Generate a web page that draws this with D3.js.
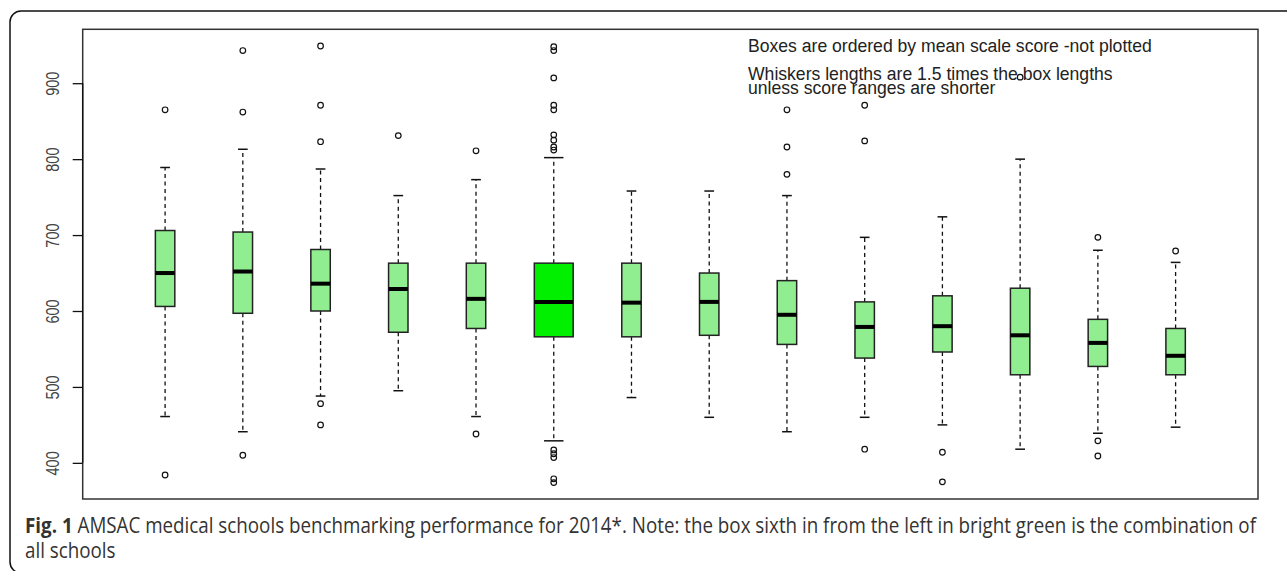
<!DOCTYPE html>
<html>
<head>
<meta charset="utf-8">
<script src="https://cdn.jsdelivr.net/npm/d3@7"></script>
<style>
  body { margin: 0; background: #fff; }
  svg { display: block; }
</style>
</head>
<body>
<script>
// one box per school, ordered by mean score; the 6th is all schools combined
var schools = ["S1", "S2", "S3", "S4", "S5", "All", "S7", "S8", "S9", "S10", "S11", "S12", "S13", "S14"];
var combined = "All";

var lowWhisker  = [461, 441, 488, 495, 461, 429, 486, 460, 441, 460, 450, 418, 439, 447];
var q1          = [606, 597, 600, 572, 577, 566, 566, 568, 556, 538, 546, 516, 527, 516];
var median      = [650, 652, 636, 629, 616, 612, 611, 612, 595, 579, 580, 568, 558, 541];
var q3          = [706, 704, 681, 663, 663, 663, 663, 650, 640, 612, 620, 630, 589, 577];
var highWhisker = [789, 813, 787, 752, 773, 802, 758, 758, 752, 697, 724, 800, 680, 664];

var outliers = [
  [865, 384],
  [943, 862, 410],
  [949, 871, 823, 478, 450],
  [831],
  [811, 438],
  [948, 943, 907, 871, 865, 832, 825, 816, 812, 417, 412, 407, 379, 374],
  [],
  [],
  [865, 816, 780],
  [871, 824, 418],
  [414, 375],
  [908],
  [697, 429, 409],
  [679]
];

var yTicks = [400, 500, 600, 700, 800, 900];

var notes = [
  "Boxes are ordered by mean scale score -not plotted",
  "Whiskers lengths are 1.5 times the box lengths",
  "unless score ranges are shorter"
];

var W = 1287, H = 571;
var plot = {left: 82.7, right: 1258, top: 29.3, bottom: 499};

var svg = d3.select("body").append("svg")
    .attr("width", W)
    .attr("height", H);

// outer rounded frame of the figure panel
svg.append("rect")
    .attr("x", 10).attr("y", 11)
    .attr("width", 1320).attr("height", 562)
    .attr("rx", 11)
    .attr("fill", "none")
    .attr("stroke", "#111")
    .attr("stroke-width", 1.5);

// R-style x range: positions 1..n, +-0.5, then 4% padding
var n = schools.length;
var pad = n * 0.04;
var x = d3.scaleLinear()
    .domain([0.5 - pad, n + 0.5 + pad])
    .range([plot.left, plot.right]);

var y = d3.scaleLinear()
    .domain([352.4, 971])
    .range([plot.bottom, plot.top]);

var data = schools.map(function(s, i) {
  return {
    name: s, pos: i + 1,
    lo: lowWhisker[i], q1: q1[i], med: median[i], q3: q3[i], hi: highWhisker[i],
    out: outliers[i]
  };
});

function halfW(d) { return d.name === combined ? 0.25 : 0.125; }

var g = svg.append("g");

var box = g.selectAll("g.box")
    .data(data)
  .enter().append("g")
    .attr("class", "box");

// dashed whiskers
box.append("line")
    .attr("x1", d => x(d.pos)).attr("x2", d => x(d.pos))
    .attr("y1", d => y(d.q3)).attr("y2", d => y(d.hi))
    .attr("stroke", "#111").attr("stroke-width", 1.3)
    .attr("stroke-dasharray", "4,3.5");
box.append("line")
    .attr("x1", d => x(d.pos)).attr("x2", d => x(d.pos))
    .attr("y1", d => y(d.q1)).attr("y2", d => y(d.lo))
    .attr("stroke", "#111").attr("stroke-width", 1.3)
    .attr("stroke-dasharray", "4,3.5");

// staples, half the box width
["hi", "lo"].forEach(function(k) {
  box.append("line")
      .attr("x1", d => x(d.pos - halfW(d) / 2)).attr("x2", d => x(d.pos + halfW(d) / 2))
      .attr("y1", d => y(d[k])).attr("y2", d => y(d[k]))
      .attr("stroke", "#111").attr("stroke-width", 1.5);
});

// boxes
box.append("rect")
    .attr("x", d => x(d.pos - halfW(d)))
    .attr("width", d => x(d.pos + halfW(d)) - x(d.pos - halfW(d)))
    .attr("y", d => y(d.q3))
    .attr("height", d => y(d.q1) - y(d.q3))
    .attr("fill", d => d.name === combined ? "#00f000" : "#90ee90")
    .attr("stroke", "#222")
    .attr("stroke-width", 1.5);

// medians
box.append("line")
    .attr("x1", d => x(d.pos - halfW(d))).attr("x2", d => x(d.pos + halfW(d)))
    .attr("y1", d => y(d.med)).attr("y2", d => y(d.med))
    .attr("stroke", "#000").attr("stroke-width", 4);

// outliers
box.selectAll("circle")
    .data(d => d.out.map(v => ({pos: d.pos, v: v})))
  .enter().append("circle")
    .attr("cx", d => x(d.pos))
    .attr("cy", d => y(d.v))
    .attr("r", 2.8)
    .attr("fill", "none")
    .attr("stroke", "#111")
    .attr("stroke-width", 1.2);

// plot border
svg.append("rect")
    .attr("x", plot.left).attr("y", plot.top)
    .attr("width", plot.right - plot.left)
    .attr("height", plot.bottom - plot.top)
    .attr("fill", "none")
    .attr("stroke", "#333")
    .attr("stroke-width", 1.5);

// y axis, labels parallel to the axis as in base R
var yAxis = svg.append("g")
    .attr("transform", "translate(" + plot.left + ",0)")
    .call(d3.axisLeft(y).tickValues(yTicks).tickSize(10).tickFormat(d3.format("d")));
yAxis.select(".domain").attr("stroke", "#111").attr("stroke-width", 1.3)
    .attr("d", "M0," + y(400) + "V" + y(900));
yAxis.selectAll(".tick line").attr("stroke", "#111").attr("stroke-width", 1.3);
yAxis.selectAll(".tick text")
    .attr("x", null).attr("dy", null)
    .attr("transform", "translate(-24,0) rotate(-90) scale(1,1.25)")
    .attr("text-anchor", "middle")
    .attr("font-family", "Liberation Sans, Arial, sans-serif")
    .attr("font-size", 14.5)
    .attr("fill", "#444");

// notes in the top right of the plot
var noteY = [52, 80, 94];
svg.selectAll("text.note")
    .data(notes)
  .enter().append("text")
    .attr("class", "note")
    .attr("transform", (d, i) => "translate(748," + noteY[i] + ") scale(1,1.05)")
    .attr("font-family", "Liberation Sans, Arial, sans-serif")
    .attr("font-size", 17.6)
    .attr("fill", "#222")
    .text(d => d);

// caption
var cap = svg.append("text")
    .attr("transform", "translate(25,533) scale(1,1.12)")
    .attr("font-family", "Open Sans, Noto Sans, sans-serif")
    .attr("font-size", 18.8)
    .attr("fill", "#333");
cap.append("tspan").attr("font-weight", "bold").text("Fig. 1");
cap.append("tspan").text(" AMSAC medical schools benchmarking performance for 2014*. Note: the box sixth in from the left in bright green is the combination of");

svg.append("text")
    .attr("transform", "translate(25,558) scale(1,1.12)")
    .attr("font-family", "Open Sans, Noto Sans, sans-serif")
    .attr("font-size", 18.8)
    .attr("fill", "#333")
    .text("all schools");
</script>
</body>
</html>
